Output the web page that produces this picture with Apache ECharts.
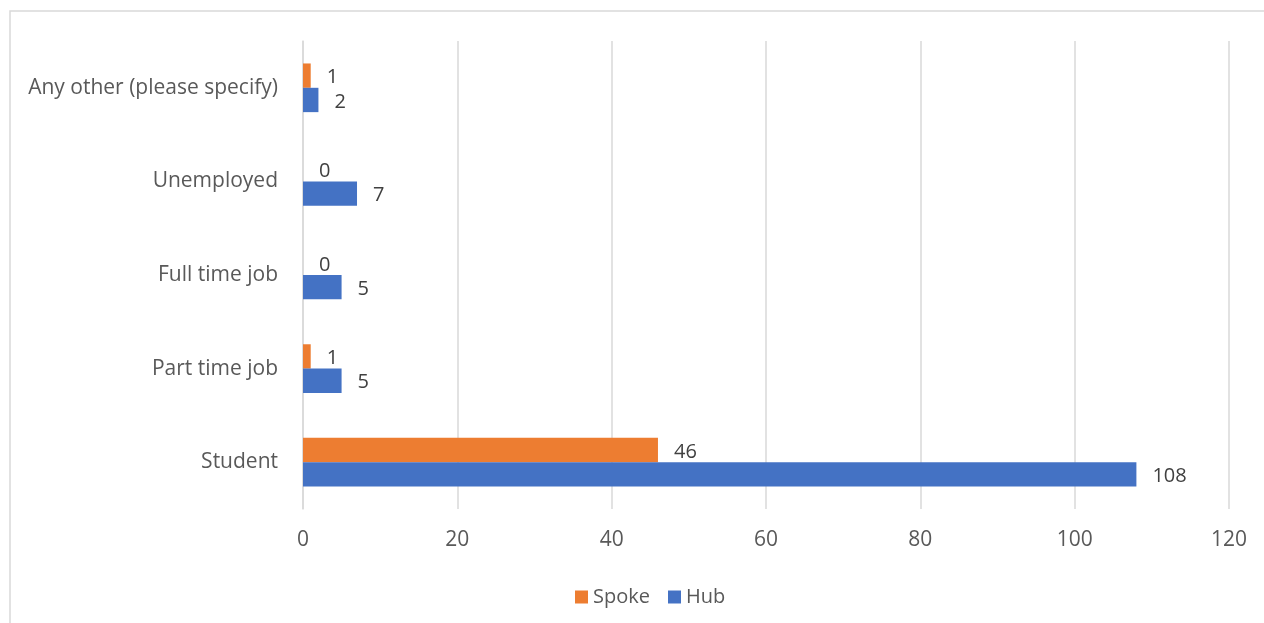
<!DOCTYPE html>
<html>
<head>
<meta charset="utf-8">
<script src="https://cdn.jsdelivr.net/npm/echarts@6/dist/echarts.min.js"></script>
<style>
html, body { margin: 0; padding: 0; background: #fff; }
#chart { width: 1264px; height: 623px; }
</style>
</head>
<body>
<div id="chart"></div>
<script>
// data
var categories = ['Student', 'Part time job', 'Full time job', 'Unemployed', 'Any other (please specify)'];
var hubValues = [108, 5, 5, 7, 2];
var spokeValues = [46, 1, 0, 0, 1];
var xTicks = [0, 20, 40, 60, 80, 100, 120];

var chart = echarts.init(document.getElementById('chart'));
var font = '"Open Sans", sans-serif';
var textColor = '#595959';

function barLabel() {
    return {
        show: true,
        position: 'right',
        distance: 15,
        offset: [1, 2],
        color: '#404040',
        fontFamily: font,
        fontSize: 20
    };
}

var option = {
    animation: false,
    graphic: [{
        type: 'rect',
        shape: { x: 10, y: 11, width: 1300, height: 700 },
        style: { fill: 'none', stroke: '#d9d9d9', lineWidth: 1.5 },
        silent: true
    }],
    grid: { left: 303, right: 35, top: 41, bottom: 114, containLabel: false },
    legend: {
        left: 570,
        top: 582,
        itemWidth: 13,
        itemHeight: 13,
        itemGap: 18,
        icon: 'rect',
        data: ['Spoke', 'Hub'],
        textStyle: { color: textColor, fontFamily: font, fontSize: 20 }
    },
    xAxis: {
        type: 'value',
        min: xTicks[0],
        max: xTicks[xTicks.length - 1],
        interval: 20,
        axisLine: { show: false },
        axisTick: { show: false },
        axisLabel: { color: textColor, fontFamily: font, fontSize: 21, margin: 21 },
        splitLine: { lineStyle: { color: '#d9d9d9', width: 1.5 } }
    },
    yAxis: {
        type: 'category',
        data: categories,
        axisLine: { show: true, lineStyle: { color: '#d9d9d9', width: 1.5 } },
        axisTick: { show: false },
        axisLabel: { color: textColor, fontFamily: font, fontSize: 21, margin: 25, padding: [4, 0, 0, 0] }
    },
    series: [{
        name: 'Spoke',
        type: 'bar',
        data: spokeValues,
        itemStyle: { color: '#ED7D31' },
        barGap: '0%',
        barCategoryGap: '48%',
        label: barLabel(),
        z: 2
    }, {
        name: 'Hub',
        type: 'bar',
        data: hubValues,
        itemStyle: { color: '#4472C4' },
        barGap: '0%',
        barCategoryGap: '48%',
        label: barLabel(),
        z: 2
    }]
};

chart.setOption(option);
</script>
</body>
</html>
